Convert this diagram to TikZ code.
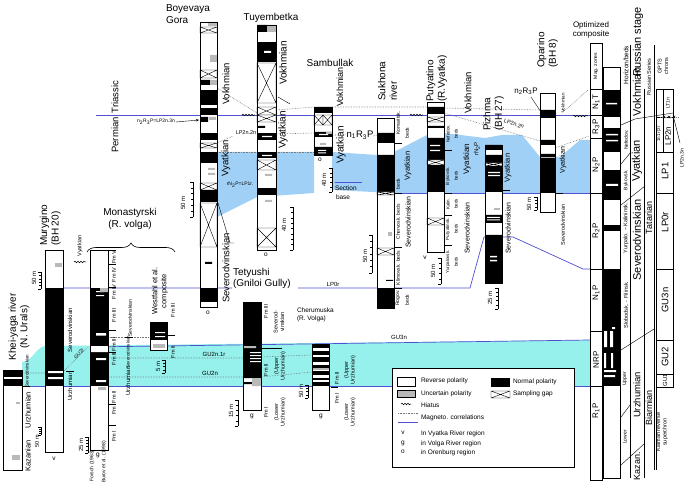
\documentclass[tikz,border=0pt]{standalone}
\usepackage{fontspec}
\setmainfont{Liberation Sans}
\usetikzlibrary{arrows.meta, decorations.pathmorphing, decorations.pathreplacing}
\definecolor{vyB}{RGB}{160,208,245}
\definecolor{guC}{RGB}{150,240,236}
\definecolor{magB}{RGB}{80,80,210}
\definecolor{unG}{RGB}{185,185,185}
\definecolor{corG}{RGB}{120,120,120}
% sampling gap box
\newcommand{\sgap}[4]{\draw[line width=0.4pt, fill=white] (#1,#2) rectangle (#3,#4) (#1,#2) -- (#3,#4) (#1,#4) -- (#3,#2);}
% vertical scale bar, ticks to the left
\newcommand{\ruler}[4]{\draw[line width=0.4pt] (#1,#2) -- (#1,#3);
  \foreach \k in {0,...,#4} \draw[line width=0.4pt] (#1,{#2+(#3-#2)*\k/#4}) -- ++(-1.6,0);
  \draw[line width=0.4pt] (#1,#2) -- ++(-3.2,0) (#1,#3) -- ++(-3.2,0);}
% hiatus mark
\newcommand{\hiat}[3]{\draw[line width=0.5pt, decorate, decoration={snake, amplitude=0.8pt, segment length=3pt}] (#1,#2) -- ++(#3,0);}

\begin{document}
\begin{tikzpicture}[x=1pt, y=-1pt,
  every node/.style={inner sep=0pt, outer sep=0pt},
  vt/.style={rotate=90},
  frm/.style={draw=black, line width=0.5pt},
  corr/.style={draw=corG, line width=0.6pt, densely dotted},
  magl/.style={draw=magB, line width=0.7pt},
  tk/.style={draw=black, line width=0.4pt},
  f4/.style={font=\fontsize{4.5}{5}\selectfont},
  f5/.style={font=\fontsize{5}{6}\selectfont},
  f55/.style={font=\fontsize{5.5}{6.5}\selectfont},
  f6/.style={font=\fontsize{6}{7}\selectfont},
  f65/.style={font=\fontsize{6.5}{8}\selectfont},
  f7/.style={font=\fontsize{7}{8}\selectfont},
  f75/.style={font=\fontsize{7.5}{9}\selectfont},
  f8/.style={font=\fontsize{8}{9.5}\selectfont},
  f9/.style={font=\fontsize{9}{10}\selectfont},
  f95/.style={font=\fontsize{9.5}{11}\selectfont},
  f10/.style={font=\fontsize{10}{11.5}\selectfont},
  f11/.style={font=\fontsize{11}{12}\selectfont}]
\useasboundingbox (0,0) rectangle (685,486);
\fill[white] (0,0) rectangle (685,486);

% shaded intervals
\fill[vyB] (217,152) -- (314,152) -- (314,193) -- (257,197) -- (217,217) -- cycle;
\fill[vyB] (332,152) -- (377,155) -- (394,152) -- (427,135) -- (444,133) -- (485,138) -- (502,135) -- (522,135) -- (540,157) -- (560,157) -- (580,140) -- (590,140) -- (590,193) -- (394,193) -- (332,190) -- cycle;
\fill[guC] (22,362) .. controls (32,362) and (36,347) .. (45,346) -- (590,340) -- (590,386) -- (22,386) -- cycle;

% magneto. correlations
\draw[magl] (96,115.5) -- (590,115.5);
\draw[magl] (394,193) -- (590,193);
\draw[magl] (63,288) -- (232,288) (298,288) -- (470,288) -- (484,237) -- (513,237) -- (583,269) -- (590,269);
\draw[magl] (90,347) -- (590,340);
\draw[magl] (22,386) -- (590,386);
\draw[magl] (335,182) -- (362,182);
\draw[corr] (217,152) -- (314,152);
\draw[corr] (217,88) -- (257,113) (276,110) -- (314,107) (332,107) -- (427,107) (444,108) -- (540,110);
\draw[corr] (217,143) -- (233,136) (276,134) -- (314,133) (332,135) -- (346,135) (373,136) -- (377,135);
\draw[corr] (444,113) -- (540,141);
\draw[corr] (555,148) -- (589,136) (562,113) -- (588,90);
\draw[corr] (108,337) -- (150,337);
\draw[corr] (22,373) -- (45,373) (63,372) -- (88,347);
\draw[corr] (108,358) -- (243,358) (261,357) -- (312,355);
\draw[corr] (108,377) -- (243,377) (261,377) -- (312,372);
\hiat{242}{115}{13}
\hiat{410}{115}{13}
\hiat{573}{116}{15}
\hiat{74}{262}{12}

% Khei-yaga river
\fill[white] (3,370) rectangle (22,470);
\foreach \a/\b in {371/377,379/386} \fill (3,\a) rectangle (22,\b);
\fill[unG] (12,455) rectangle (20,460);
\fill[unG] (16,402) rectangle (20,404);
\draw[frm] (3,370) rectangle (22,470);
\node[vt,f10,align=center] (khT) at (19,327) {Khei-yaga river\\(N. Urals)};
\node[vt,f4] (khSev) at (27,371) {Severodvinskian};
\draw[tk] (23,386) -- (30,386);
\node[vt,f75] (khUrz) at (28,410) {Urzhumian};
\node[vt,f75] (khKaz) at (28,456) {Kazanian};
\ruler{41}{427}{435}{4}
\node[vt,f55] (khSc) at (37,441) {50 m};

% Murygino (BH 20)
\fill[white] (45,250) rectangle (63,452);
\fill (45,288) rectangle (63,386);
\fill[white] (48,371) rectangle (63,373) (48,377) rectangle (63,379);
\fill[unG] (55,263) rectangle (62,267);
\draw[frm] (45,250) rectangle (63,452);
\node[vt,f10,anchor=north west,align=left] (muT) at (40,246) {Murygino\\(BH 20)};
\node[vt,f6] (muSev) at (70,330) {Severodvinskian};
\draw[tk] (66,371) -- (74,371);
\node[vt,f6] (muUrz) at (70,386) {Urzhumian};
\node[vt,f55] (muVya) at (80,246) {Vyatkian};
\ruler{41}{272}{289}{5}
\node[vt,f6] (muSc) at (34,278) {50 m};
\node[f65] (muv) at (54,459) {v};

% Monastyrski (R. volga)
\fill[white] (90,250) rectangle (108,450);
\fill (90,288) rectangle (108,386);
\fill[white] (96,291) rectangle (104,292.2) (96,295) rectangle (104,296.2) (96,333) rectangle (106,335.5)
  (90,346) rectangle (108,352) (96,358) rectangle (106,360) (96,380) rectangle (106,382);
\fill[unG] (100,288) rectangle (108,292) (98,387) rectangle (106,390);
\draw[frm] (90,250) rectangle (108,450);
\node[f10,align=center] (moT) at (130,219) {Monastyrski\\(R. volga)};
\draw[line width=0.6pt, decorate, decoration={brace, amplitude=9pt}] (87,252) -- (175,252);
\foreach \y/\t [count=\i] in {257/Fm V,275/Fm IV,292/Fm IV,315/Fm III,344/Fm III,359/Fm II,397/Fm II,409/Fm I,436/Fm I}
  \node[vt,f55] (moF\i) at (114,\y) {\t};
\foreach \y in {250,264,287,330,352,404,425} \draw[tk] (109,\y) -- (116,\y);
\node[vt,f5] (moSev) at (130,318) {Severodvinskian};
\draw[tk] (125,337) -- (133,337);
\node[vt,f4] (moSevb) at (128,352) {Severodvinskian};
\node[vt,f6] (moUrz) at (128,381) {Urzhumian};
\node[f65] (mog) at (98,455) {g};
\ruler{88}{437}{453}{5}
\node[vt,f6] (moSc) at (81,445) {25 m};
\node[vt,f5] (moFo) at (92,466) {Forsch (1963)};
\node[vt,f5] (moBu) at (104,462) {Burov et al. (1998)};

% Westfahl et al. composite
\fill[white] (150,322) rectangle (167,350);
\fill (150,322) rectangle (167,340);
\fill[white] (155,332) rectangle (165,333.2) (155,336) rectangle (165,337.2);
\fill[unG] (153,344) rectangle (165,348);
\draw[frm] (150,322) rectangle (167,350);
\node[vt,f75,align=center] (weT) at (160,291) {Westfahl et al.\\composite};
\node[vt,f55] (weF3) at (173,310) {Fm III};
\draw[tk] (168,335) -- (175,335);
\node[vt,f55] (weF2) at (173,352) {Fm II};
\ruler{165}{360}{373}{4}
\node[vt,f6] (weSc) at (158,366) {5 m};

% Boyevaya Gora
\fill[white] (200,22) rectangle (217,307);
\foreach \a/\b in {90/105,108/115,133/140,152/163,190/202,288/302} \fill (200,\a) rectangle (217,\b);
\fill (200,80) rectangle (210,85) (200,117) rectangle (208,122) (205,262) rectangle (212,264);
\fill[unG] (208,22) rectangle (217,26) (210,55) rectangle (217,62) (210,80) rectangle (217,85)
  (209,117) rectangle (216,120) (208,168) rectangle (215,170) (208,173) rectangle (215,175);
\sgap{200}{27}{217}{33}
\sgap{200}{70}{217}{78}
\sgap{200}{143}{217}{148}
\sgap{200}{183}{217}{190}
\sgap{200}{203}{217}{247}
\draw[frm] (200,22) rectangle (217,307);
\node[f10,anchor=north west,align=left] (bgT) at (166,5) {Boyevaya\\Gora};
\node[vt,f95] (bgVok) at (226,84) {Vokhmian};
\node[vt,f95] (bgVya) at (226,158) {Vyatkian};
\node[vt,f95] (bgSev) at (226,268) {Severodvinskian};
\draw[tk] (218,203) -- (230,243) -- (234,243);
\node[vt,f95] (bgPer) at (115,135) {Permian};
\node[vt,f95] (bgTri) at (115,97) {Triassic};
\node[f5] (bgLab) at (156,122) {n\textsubscript{2}R\textsubscript{3}P=LP2n.3n};
\draw[-{Stealth[length=3pt,width=2.5pt]}, line width=0.4pt] (bgLab.east) ++(1,0) -- (199,120);
\ruler{193}{182}{217}{6}
\node[vt,f6] (bgSc) at (183,203) {50 m};
\node[f65] (bgo) at (208,313) {o};
\node[f5] (bgLp) at (240,185) {rN\textsubscript{2}P=LP1r.};

% Tuyembetka
\fill[white] (257,25) rectangle (276,250);
\foreach \a/\b in {42/62,133/140,152/158,188/195} \fill (257,\a) rectangle (276,\b);
\fill (257,25) rectangle (267,32) (257,126) rectangle (265,128);
\fill[white] (264,51) rectangle (271,53) (262,136) rectangle (272,137.2) (262,155) rectangle (272,156.2);
\fill[unG] (267,25) rectangle (276,32) (265,174) rectangle (272,176) (265,200) rectangle (272,202);
\sgap{257}{63}{276}{103}
\sgap{257}{107}{276}{115}
\sgap{257}{115}{276}{122}
\sgap{257}{160}{276}{170}
\sgap{257}{228}{276}{247}
\draw[frm] (257,25) rectangle (276,250);
\node[f10] (tuT) at (271,18) {Tuyembetka};
\node[vt,f10] (tuVok) at (283,63) {Vokhmian};
\node[vt,f10] (tuVya) at (283,130) {Vyatkian};
\draw[tk] (278,97) -- (290,104);
\node[f55] (tuLp) at (246,133) {LP2n.2n};
\ruler{293}{207}{250}{8}
\node[vt,f6] (tuSc) at (284,225) {40 m};
\node[f65] (tuo) at (266,255) {o};

% Sambullak
\fill[white] (314,107) rectangle (332,155);
\fill (314,107) rectangle (332,113) (314,132) rectangle (332,137) (314,147) rectangle (332,155);
\fill[white] (319,134) rectangle (328,135.2) (318,150) rectangle (326,151) (318,152.5) rectangle (326,153.5);
\fill[unG] (326,132) rectangle (332,134) (320,143) rectangle (326,145);
\sgap{314}{115}{323}{125}
\sgap{323}{115}{332}{125}
\draw[frm] (314,107) rectangle (332,155);
\node[f10] (saT) at (330,63) {Sambullak};
\node[vt,f9] (saVok) at (340,87) {Vokhmian};
\node[vt,f10] (saVya) at (341,145) {Vyatkian};
\node[f95] (saN) at (360,135) {n\textsubscript{1}R\textsubscript{3}P};
\node[f65] (sao) at (320,160) {o};
\ruler{332}{168}{192}{5}
\node[vt,f6] (saSc) at (324,180) {40 m};
\node[f65,anchor=west] (saSe) at (335,188) {Section};
\node[f65,anchor=west] (saBa) at (336,197) {base};

% Sukhona river
\fill[white] (377,118) rectangle (394,308);
\fill (377,133) rectangle (394,143) (377,155) rectangle (394,192) (377,288) rectangle (394,308) (386,280) rectangle (393,281);
\fill[unG] (388,232) rectangle (392,236);
\sgap{377}{192}{394}{195}
\sgap{377}{248}{394}{255}
\draw[frm] (377,118) rectangle (394,308);
\node[vt,f10,anchor=north west,align=left] (suT) at (378,101) {Sukhona\\river};
\node[vt,f5] (suKo) at (398,123) {Komaritsk.};
\node[vt,f5] (suKb) at (407,133) {beds};
\node[vt,f75] (suVya) at (408,166) {Vyatkian};
\node[vt,f5] (suBb) at (398,184) {beds};
\node[vt,f5] (suCh) at (398,222) {Chervosk. beds};
\node[vt,f7] (suSev) at (408,222) {Severodvinskian};
\node[vt,f5] (suKl) at (398,268) {Klimovsk. beds};
\node[vt,f5] (suRo) at (398,298) {Rogov.};
\node[vt,f5] (suRb) at (407,300) {beds};
\foreach \y in {143,193,247,288} \draw[tk] (395,\y) -- (402,\y);
\ruler{372}{235}{273}{6}
\node[vt,f6] (suSc) at (365,256) {50 m};

% Putyatino (R. Vyatka)
\fill[white] (427,102) rectangle (444,252);
\fill (427,107) rectangle (444,114) (427,126) rectangle (444,128) (427,138) rectangle (444,192);
\fill[white] (430,145) rectangle (440,146.2) (430,150) rectangle (440,151.2);
\sgap{427}{117}{444}{122}
\sgap{427}{160}{444}{165}
\sgap{427}{218}{444}{225}
\draw[frm] (427,102) rectangle (444,252);
\node[vt,f10,anchor=north west,align=left] (puT) at (426,102) {Putyatino\\(R.Vyatka)};
\node[vt,f95] (puVok) at (468,93) {Vokhmian};
\node[vt,f8] (puVya) at (467,159) {Vyatkian};
\node[vt,f7] (puSev) at (467,228) {Severodvinskian};
\foreach \y/\t [count=\i] in {134/Nefedov.,176/Bykovsk.,204/Kalin.,229/Putyatinsk.,262/Yurpalovsk.}
  {\node[vt,f4] (puB\i) at (448,\y) {\t}; \node[vt,f4] (puD\i) at (456,\y) {beds};}
\foreach \y in {150,193,215,245} \draw[tk] (445,\y) -- (452,\y);
\node[f65] (puv) at (425,258) {v};
\ruler{441}{258}{284}{5}
\node[vt,f6] (puSc) at (433,271) {50 m};

% Pizhma (BH 27)
\fill[white] (485,145) rectangle (502,283);
\fill (485,145) rectangle (502,150) (485,155) rectangle (502,163) (485,166) rectangle (502,192) (485,215) rectangle (502,223) (485,235) rectangle (502,283);
\fill[white] (488,172) rectangle (500,173.2) (488,175) rectangle (500,176.2) (487,217) rectangle (500,218)
  (487,219.5) rectangle (500,220.5) (490,256) rectangle (497,257.5) (490,260) rectangle (497,261.5);
\fill[unG] (494,208) rectangle (500,210);
\sgap{485}{163}{502}{166}
\draw[frm] (485,145) rectangle (502,283);
\node[vt,f10,anchor=north west,align=left] (piT) at (483,131) {Pizhma\\(BH 27)};
\node[vt,f6] (piN) at (477,149) {rN\textsubscript{2}P};
\node[vt,f75] (piVya) at (508,168) {Vyatkian};
\draw[tk] (503,190) -- (510,190);
\node[vt,f7] (piSev) at (508,228) {Severodvinskian};
\node[f55,rotate=-17] (piLp) at (514,124) {LP2n.2n};
\ruler{498}{288}{309}{5}
\node[vt,f6] (piSc) at (490,298) {25 m};

% Oparino (BH 8)
\fill[white] (540,93) rectangle (555,212);
\fill (540,110) rectangle (555,118) (540,140) rectangle (555,145) (540,154) rectangle (555,193);
\fill[unG] (540,157) rectangle (555,158.5);
\draw[frm] (540,93) rectangle (555,212);
\node[vt,f10,anchor=north west,align=left] (opT) at (537,68) {Oparino\\(BH 8)};
\node[f8] (opN) at (526,91) {n\textsubscript{2}R\textsubscript{3}P};
\draw[tk] (531,97) -- (541,112);
\node[vt,f4] (opVok) at (563,103) {Vokhmian};
\node[vt,f7] (opVya) at (563,160) {Vyatkian};
\draw[tk] (556,193) -- (563,193);
\node[vt,f55] (opSev) at (563,225) {Severodvinskian};
\ruler{537}{197}{210}{4}
\node[vt,f6] (opSc) at (529,204) {50 m};

% Tetyushi (Gniloi Gully)
\fill[white] (243,302) rectangle (261,410);
\fill (243,302) rectangle (261,378) (243,382) rectangle (252,384);
\fill[white] (250,352) rectangle (261,353) (250,355) rectangle (261,356) (250,358) rectangle (261,359) (250,361) rectangle (261,362);
\fill[unG] (243,346) rectangle (256,348) (252,378) rectangle (261,386);
\draw[frm] (243,302) rectangle (261,410);
\node[f10,anchor=north west,align=left] (teT) at (233,268) {Tetyushi\\(Gniloi Gully)};
\node[vt,f55] (teF3) at (266,311) {Fm III};
\node[vt,f55,align=center] (teSev) at (279,322) {Severod-\\vinskian};
\draw[tk] (262,348) -- (282,348);
\node[vt,f55] (teF2) at (266,370) {Fm II};
\node[vt,f55,align=center] (teUp) at (280,366) {(Upper\\Urzhumian)};
\node[vt,f55] (teF1) at (266,412) {Fm I};
\node[vt,f55,align=center] (teLo) at (280,412) {(Lower\\Urzhumian)};
\node[f65] (teg) at (252,416) {g};
\ruler{238}{400}{426}{5}
\node[vt,f6] (teSc) at (231,411) {15 m};

% Cherumuska (R. Volga)
\fill[white] (312,344) rectangle (329,410);
\foreach \a/\b in {344/348,351/355,357/362,365/368,371/375,378/380,382/386} \fill (312,\a) rectangle (329,\b);
\fill[unG] (312,368) rectangle (329,370);
\draw[frm] (312,344) rectangle (329,410);
\node[f65,anchor=north west,align=left] (chT) at (297,308) {Cherumuska\\(R. Volga)};
\node[vt,f55] (chF2) at (337,378) {Fm II};
\draw[tk] (331,387) -- (338,387);
\node[vt,f55] (chF1) at (337,398) {Fm I};
\node[vt,f55,align=center] (chUp) at (350,370) {(Upper\\Urzhumian)};
\node[vt,f55,align=center] (chLo) at (350,412) {(Lower\\Urzhumian)};
\node[f65] (chg) at (321,416) {g};
\ruler{308}{385}{398}{4}
\node[vt,f6] (chSc) at (301,391) {50 m};

% zone labels
\node[f6] (zGU21) at (214,354) {GU2n.1r};
\node[f6] (zGU2) at (210,373) {GU2n};
\node[f5,rotate=50] (zGU2r) at (79,354) {GU2r};
\node[f6] (zGU3) at (399,337) {GU3n};
\node[f6] (zLP0) at (333,284) {LP0r};

% optimized composite: mag. zones
\draw[frm] (590,43) rectangle (602,480);
\foreach \y in {89,115,138,193,269,331,386} \draw[tk] (590,\y) -- (602,\y);
\node[f8,align=center] (ocT) at (591,30) {Optimized\\composite};
\node[vt,f5] (mzH) at (596,66) {Mag. zones};
\foreach \y/\t [count=\i] in {102/N\textsubscript{1}T,127/R\textsubscript{3}P,165/N\textsubscript{2}P,231/R\textsubscript{2}P,293/N\textsubscript{1}P,360/NRP,411/R\textsubscript{1}P}
  \node[vt,f8] (mz\i) at (596,\y) {\t};
% composite polarity column
\fill[white] (603,67) rectangle (620,478);
\foreach \a/\b in {90/117,128/152,170/200,225/231,269/386} \fill (603,\a) rectangle (620,\b);
\fill[white] (606,103) rectangle (617,104.5) (606,134) rectangle (618,135.5) (606,140) rectangle (618,141.5) (606,184) rectangle (618,186)
  (604,331) rectangle (607,347) (610,331) rectangle (613,347) (604,353) rectangle (606,368) (611,353) rectangle (613,368)
  (603,370) rectangle (616,372) (603,375) rectangle (615,377) (612,327) rectangle (615,329);
\draw[frm] (603,67) rectangle (620,478);
% horizons, stages, series, chrons
\draw[tk] (630,45) -- (630,478) (644,89) -- (644,478) (654,45) -- (654,470);
\draw[tk] (621,125) -- (635,119) -- (673,113);
\draw[tk] (621,164) -- (631,152);
\draw[tk] (621,205) -- (645,186);
\draw[tk] (621,350) -- (654,329);
\draw[tk] (621,417) -- (630,405);
\draw[tk] (621,465) -- (644,444);
\node[vt,f65] (hzH) at (626,65) {Horizon/beds};
\node[vt,f5] (hz1) at (626,140) {Nefedov.};
\node[vt,f5] (hz2) at (626,180) {Bykovsk.};
\node[vt,f55] (hz3) at (626,228) {Yurpalo. -- Kalininsk.};
\node[vt,f55] (hz4) at (626,305) {Slobodsk. - Filinsk.};
\node[vt,f5] (hz5) at (625,379) {Upper};
\node[vt,f5] (hz6) at (625,437) {Lower};
\node[vt,f11] (stH) at (638,42) {Russian stage};
\node[vt,f11] (st1) at (637,92) {Vokhmian};
\node[vt,f11] (st2) at (637,161) {Vyatkian};
\node[vt,f11] (st3) at (637,240) {Severodvinskian};
\node[vt,f95] (st4) at (637,395) {Urzhumian};
\node[vt,f9] (st5) at (637,466) {Kazan.};
\node[vt,f55] (srH) at (649,77) {Russian Series};
\node[vt,f9] (sr1) at (649,218) {Tatarian};
\node[vt,f9] (sr2) at (649,408) {Biarmian};
\draw[tk] (656,89) rectangle (673,387);
\draw[tk] (656,387) -- (656,470);
\foreach \y in {117,152,193,269,340,374} \draw[tk] (656,\y) -- (673,\y);
\draw[tk] (663,89) -- (663,152);
\node[vt,f55,align=center] (gpH) at (663,66) {GPTS\\chrons};
\node[vt,f5] (gp1) at (668,103) {LT1n};
\node[vt,f4] (gp2) at (659,134) {1n\,1r\,|2r};
\node[vt,f8] (gp3) at (668,136) {LP2n};
\node[vt,f95] (gp4) at (665,171) {LP1};
\node[vt,f95] (gp5) at (665,222) {LP0r};
\node[vt,f95] (gp6) at (665,300) {GU3n};
\node[vt,f95] (gp7) at (665,357) {GU2};
\node[vt,f6] (gp8) at (665,380) {GU1};
\node[vt,f55,align=center] (gp9) at (662,432) {Kiaman reverse\\superchron};
\draw[corr] (660,117) -- (679,117);
\foreach \xx in {664,669,674} \draw[line width=0.4pt] (\xx-1.2,115.8) -- (\xx+1.2,118.2) (\xx-1.2,118.2) -- (\xx+1.2,115.8);
\draw[tk] (674,119) -- (680,143);
\node[vt,f5] (gpLab) at (682,158) {LP2n.3n};

% legend
\draw[frm, fill=white] (392,368) rectangle (574,467);
\draw[frm] (397,377) rectangle (415,386);
\node[f65,anchor=west] (lgRev) at (421,381) {Reverse polarity};
\draw[frm, fill=unG] (397,390) rectangle (415,397);
\node[f65,anchor=west] (lgUnc) at (421,394) {Uncertain polarity};
\hiat{401}{404}{10}
\node[f65,anchor=west] (lgHia) at (421,405) {Hiatus};
\draw[corr] (398,413) -- (418,413);
\draw[magl] (398,422) -- (418,422);
\node[f65,anchor=west] (lgMag) at (421,418) {Magneto. correlations};
\node[f65] (lgv) at (403,433) {v};
\node[f65,anchor=west] (lgVt) at (421,434) {In Vyatka River region};
\node[f65] (lgg) at (403,443) {g};
\node[f65,anchor=west] (lgGt) at (421,444) {in Volga River region};
\node[f65] (lgo) at (403,452) {o};
\node[f65,anchor=west] (lgOt) at (421,453) {in Orenburg region};
\fill (491,378) rectangle (510,387);
\node[f65,anchor=west] (lgNor) at (513,382) {Normal polarity};
\sgap{491}{391}{510}{398}
\node[f65,anchor=west] (lgGap) at (513,394) {Sampling gap};
\end{tikzpicture}
\end{document}
